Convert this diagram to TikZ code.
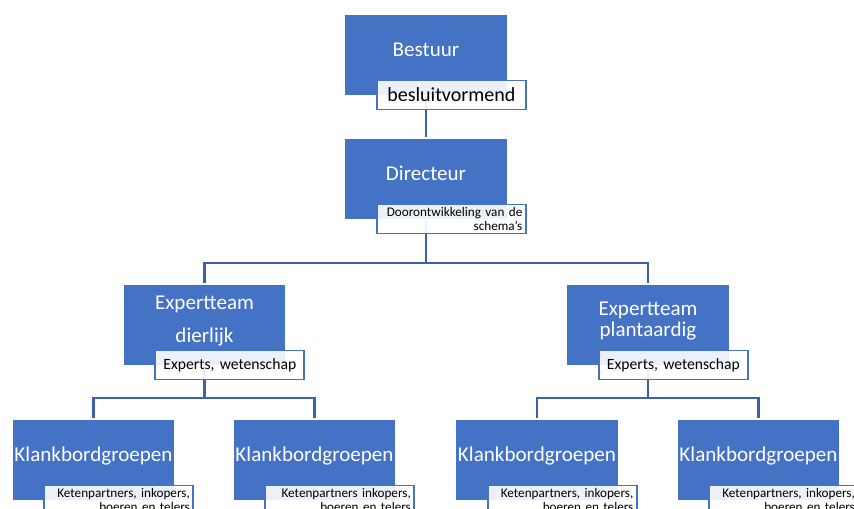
\documentclass[tikz,border=0pt]{standalone}
\usepackage{fontspec}
\setmainfont{Carlito}
\usetikzlibrary{backgrounds}
\definecolor{boxblue}{HTML}{4472C4}
\definecolor{linkblue}{HTML}{3A62AC}
\frenchspacing

\tikzset {
    orgbox/.style={rectangle, fill=boxblue, draw=white, line width=.6pt, text=white, minimum width=3.26cm, minimum height=1.64cm, inner sep=0pt, text depth=6.5pt, align=center, font=\fontsize{12}{12}\selectfont},
    orgtag/.style={rectangle, draw=boxblue, line width=1pt, fill=white, fill opacity=.9, text opacity=1, text=black, inner xsep=2pt, inner ysep=0pt, minimum height=.58cm, text width=80.8pt, anchor=north west},
    orglink/.style={draw=linkblue, line width=1.4pt},
}

\begin{document}
\begin{tikzpicture}[x=.02cm, y=-.02cm]
    \useasboundingbox (0, 0) rectangle (854, 509);
    \clip (0, 0) rectangle (854, 509);
    \coordinate (split0) at (426, 263);
    \coordinate (split1) at (204.5, 398);
    \coordinate (split2) at (648, 398);
    \node at (426, 55) [orgbox] (bestuur) {Bestuur};
    \node at (426, 179) [orgbox] (directeur) {Directeur};
    \node at (204.5, 325) [orgbox] (dierlijk) {Expertteam\\[6.8pt]dierlijk};
    \node at (648, 325) [orgbox] (plant) {Expertteam\\plantaardig};
    \node at (93.5, 460) [orgbox] (klank1) {Klankbordgroepen};
    \node at (314.5, 460) [orgbox] (klank2) {Klankbordgroepen};
    \node at (537, 460) [orgbox] (klank3) {Klankbordgroepen};
    \node at (758.5, 460) [orgbox] (klank4) {Klankbordgroepen};
    \node at ([xshift=.64cm, yshift=.34cm]bestuur.south west) [orgtag, align=center, font=\fontsize{11.4}{12}\selectfont] (bestuurtag) {besluitvormend};
    \node at ([xshift=.64cm, yshift=.34cm]directeur.south west) [orgtag, align=right, font=\fontsize{7.5}{8}\selectfont] (directeurtag) {Doorontwikkeling van de\\schema’s};
    \node at ([xshift=.64cm, yshift=.34cm]dierlijk.south west) [orgtag, align=center, font=\fontsize{8.9}{10}\selectfont] (dierlijktag) {Experts, wetenschap};
    \node at ([xshift=.64cm, yshift=.34cm]plant.south west) [orgtag, align=center, font=\fontsize{8.9}{10}\selectfont] (planttag) {Experts, wetenschap};
    \node at ([xshift=.64cm, yshift=.34cm]klank1.south west) [orgtag, align=right, font=\fontsize{7.5}{8}\selectfont] (klank1tag) {Ketenpartners, inkopers,\\boeren en telers};
    \node at ([xshift=.64cm, yshift=.34cm]klank2.south west) [orgtag, align=right, font=\fontsize{7.5}{8}\selectfont] (klank2tag) {Ketenpartners inkopers,\\boeren en telers};
    \node at ([xshift=.64cm, yshift=.34cm]klank3.south west) [orgtag, align=right, font=\fontsize{7.5}{8}\selectfont] (klank3tag) {Ketenpartners, inkopers,\\boeren en telers};
    \node at ([xshift=.64cm, yshift=.34cm]klank4.south west) [orgtag, align=right, font=\fontsize{7.5}{8}\selectfont] (klank4tag) {Ketenpartners, inkopers,\\boeren en telers};
    \begin{pgfonlayer}{background}
        \draw [orglink] (bestuur.center) -- (directeur.center);
        \draw [orglink] (directeur.center) -- (split0) -| (dierlijk.center);
        \draw [orglink] (split0) -| (plant.center);
        \draw [orglink] (dierlijk.center) -- (split1) -| (klank1.center);
        \draw [orglink] (split1) -| (klank2.center);
        \draw [orglink] (plant.center) -- (split2) -| (klank3.center);
        \draw [orglink] (split2) -| (klank4.center);
    \end{pgfonlayer}
\end{tikzpicture}
\end{document}
